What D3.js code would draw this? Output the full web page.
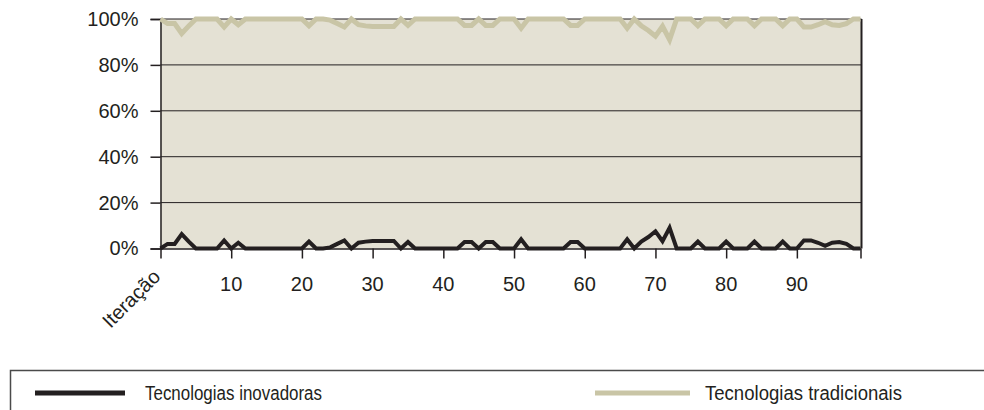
<!DOCTYPE html>
<html><head><meta charset="utf-8">
<script src="https://cdn.jsdelivr.net/npm/d3@7"></script>
<style>body{margin:0;background:#fff}</style>
</head><body>
<svg id="c" width="984" height="410"></svg>
<script>
const iterations = d3.range(0, 100);
const innovative = [0,2,2,6.3,3,0,0,0,0,3.5,
 0,2.5,0,0,0,0,0,0,0,0,
 0,3,0,0,0.5,2,3.5,0,2.5,3,
 3.3,3.3,3.3,3.3,0,2.8,0,0,0,0,
 0,0,0,2.8,2.8,0,2.8,2.8,0,0,
 0,4,0,0,0,0,0,0,2.8,2.8,
 0,0,0,0,0,0,4,0,3,5,
 7.5,3.2,9,0,0,0,3,0,0,0,
 3,0,0,0,3,0,0,0,3,0,
 0,3.5,3.5,2.5,1.2,2.5,2.8,2,0,0];
const traditional = [100,98,98,93.7,97,100,100,100,100,96.5,
 100,97.5,100,100,100,100,100,100,100,100,
 100,97,100,100,99.5,98,96.5,100,97.5,97,
 96.7,96.7,96.7,96.7,100,97.2,100,100,100,100,
 100,100,100,97.2,97.2,100,97.2,97.2,100,100,
 100,96,100,100,100,100,100,100,97.2,97.2,
 100,100,100,100,100,100,96,100,97,95,
 92.5,96.8,91,100,100,100,97,100,100,100,
 97,100,100,100,97,100,100,100,97,100,
 100,96.5,96.5,97.5,98.8,97.5,97.2,98,100,100];
const yTicks = [0,20,40,60,80,100];
const xTickPos = [0,10,20,30,40,50,60,70,80,90,99];
const xLabelPos = [10,20,30,40,50,60,70,80,90];
const firstLabel = "Iteração";
const seriesNames = ["Tecnologias inovadoras","Tecnologias tradicionais"];
const colors = ["#231f20","#c9c5a6"];

const svg = d3.select("#c");
const x = d3.scaleLinear().domain([0,99]).range([160.5,860.5]);
const y = d3.scaleLinear().domain([0,100]).range([248.5,19]);
const ink = "#231f20";
const font = "'Liberation Sans', Arial, sans-serif";

svg.append("rect").attr("x",x(0)).attr("y",y(100)).attr("width",x(99)-x(0)+1).attr("height",y(0)-y(100)).attr("fill","#e4e1d4");

// gridlines
svg.append("g").selectAll("line").data(yTicks.filter(d=>d>0)).join("line")
  .attr("x1",x(0)).attr("x2",x(99)+1).attr("y1",d=>y(d)).attr("y2",d=>y(d))
  .attr("stroke",ink).attr("stroke-width",1);
// right border
svg.append("line").attr("x1",x(99)+1).attr("x2",x(99)+1).attr("y1",y(100)).attr("y2",y(0)).attr("stroke",ink).attr("stroke-width",2);

// y axis
const yAxis = svg.append("g").attr("transform",`translate(${x(0)},0)`)
  .call(d3.axisLeft(y).tickValues(yTicks).tickFormat(d=>d+"%").tickSize(10).tickPadding(12));
yAxis.select(".domain").attr("stroke",ink).attr("stroke-width",1.5);
yAxis.selectAll(".tick line").attr("stroke",ink).attr("stroke-width",1.5);
yAxis.selectAll("text").attr("font-family",font).attr("font-size",20).attr("fill",ink);

// x axis
const xAxis = svg.append("g").attr("transform",`translate(0,${y(0)})`)
  .call(d3.axisBottom(x).tickValues(xTickPos).tickFormat("").tickSize(10).tickSizeOuter(0));
xAxis.select(".domain").attr("stroke",ink).attr("stroke-width",1.5);
xAxis.selectAll(".tick line").attr("stroke",ink).attr("stroke-width",1.5);

svg.append("g").selectAll("text").data(xLabelPos).join("text")
  .attr("x",d=>x(d)).attr("y",291).attr("text-anchor","middle")
  .attr("font-family",font).attr("font-size",20).attr("fill",ink).text(d=>d);
svg.append("text").attr("transform",`translate(${x(0)+1},278) rotate(-45)`)
  .attr("text-anchor","end").attr("font-family",font).attr("font-size",20).attr("fill",ink).text(firstLabel);

// lines
const line = d3.line().x((d,i)=>x(iterations[i])).y(d=>y(d));
svg.append("path").datum(traditional).attr("d",line).attr("fill","none")
  .attr("stroke",colors[1]).attr("stroke-width",5).attr("stroke-linejoin","miter");
svg.append("path").datum(innovative).attr("d",line).attr("fill","none")
  .attr("stroke",colors[0]).attr("stroke-width",4).attr("stroke-linejoin","miter");

// legend
svg.append("rect").attr("x",10.5).attr("y",370.5).attr("width",1000).attr("height",60)
  .attr("fill","none").attr("stroke","#4a4a4a").attr("stroke-width",1.5);
const lx = [[35,125,145,177],[595,690,705,197]];
seriesNames.forEach((n,k)=>{
  svg.append("line").attr("x1",lx[k][0]).attr("x2",lx[k][1]).attr("y1",393).attr("y2",393)
    .attr("stroke",colors[k]).attr("stroke-width",5);
  svg.append("text").attr("x",lx[k][2]).attr("y",400)
    .attr("font-family",font).attr("textLength",lx[k][3]).attr("lengthAdjust","spacingAndGlyphs")
    .attr("font-size",20).attr("fill",ink).text(n);
});
</script>
</body></html>
